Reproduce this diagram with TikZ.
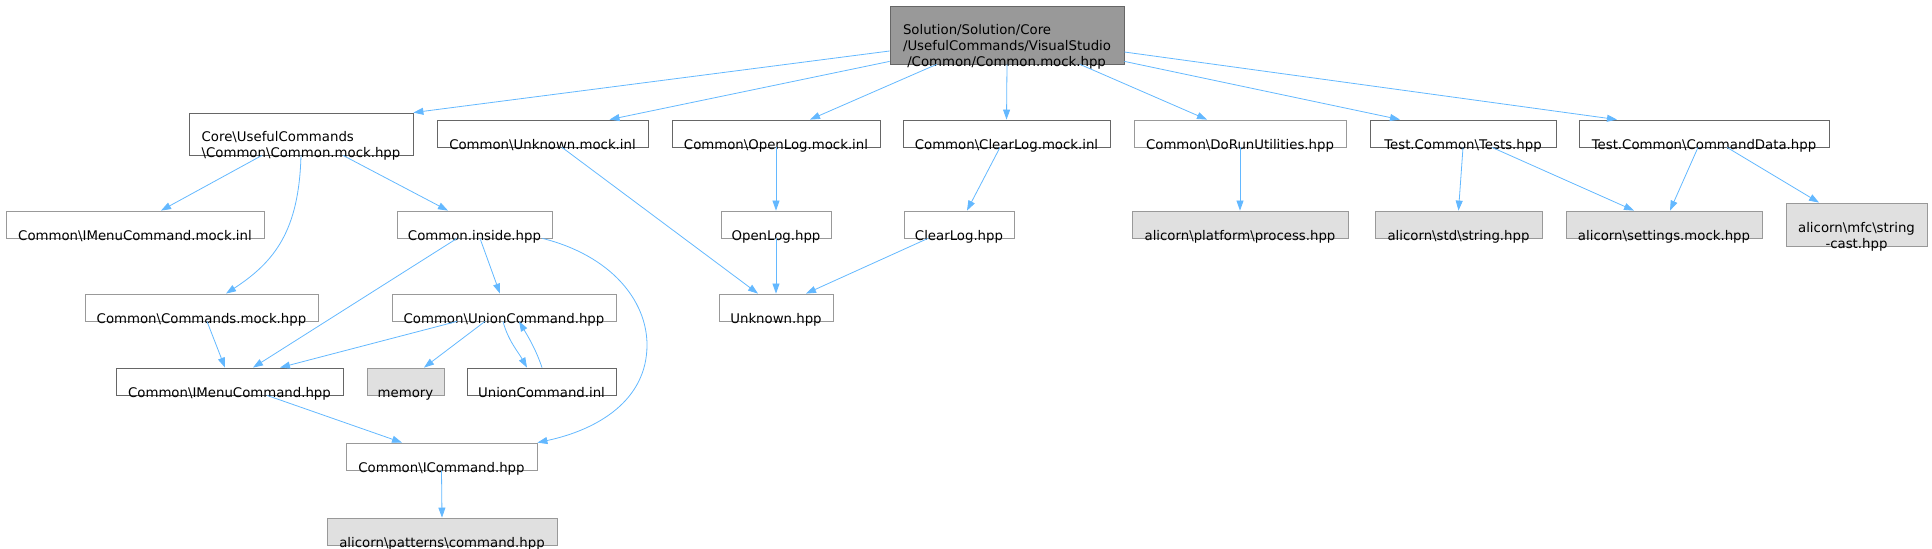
\documentclass[tikz,border=0pt]{standalone}
\usepackage{fontspec}
\setmainfont{DejaVu Sans}
\usepackage{tikz}
\usetikzlibrary{arrows.meta}

\definecolor{edgeblue}{HTML}{63B8FF}
\definecolor{dkgray}{HTML}{666666}
\definecolor{ltgray}{HTML}{999999}
\definecolor{extfill}{HTML}{E0E0E0}
\definecolor{rootfill}{HTML}{999999}
\newcommand{\bsl}{\textbackslash}
% label text sits low in its box, last baseline just under the bottom edge
\newcommand{\ftxt}[2][16bp]{\raisebox{-#1}[0pt][0pt]{\begin{tabular}[b]{@{}c@{}}#2\end{tabular}}}
\newcommand{\ftxtl}[2][16bp]{\raisebox{-#1}[0pt][0pt]{\begin{tabular}[b]{@{}l@{}}#2\end{tabular}}}

\begin{document}
\begin{tikzpicture}[x=1bp, y=-1bp,
  file/.style={draw=dkgray, fill=white, line width=0.8bp, inner sep=0pt,
               minimum height=27bp, font=\fontsize{13.3bp}{16bp}\selectfont},
  plain/.style={file, draw=ltgray},
  ext/.style={file, draw=ltgray, fill=extfill},
  arr/.style={-{Triangle[length=10bp, width=7bp]}, edgeblue, line width=0.8bp}
]
  \useasboundingbox (0,0) rectangle (1932,549);

  % row 0
  \node[file, fill=rootfill, minimum width=234bp, minimum height=58bp] (root) at (1007,35)
        {\ftxtl[32bp]{Solution/Solution/Core\\/UsefulCommands/VisualStudio\\\ /Common/Common.mock.hpp}};

  % row 1
  \node[file, minimum width=224bp, minimum height=42bp] (core) at (301,134)
        {\ftxtl[24bp]{Core\bsl UsefulCommands\\\bsl Common\bsl Common.mock.hpp}};
  \node[file, minimum width=211bp] (unkmock) at (542.5,133.5) {\ftxt{Common\bsl Unknown.mock.inl}};
  \node[file, minimum width=208bp] (openmock) at (776,133.5) {\ftxt{Common\bsl OpenLog.mock.inl}};
  \node[file, minimum width=207bp] (clearmock) at (1006.5,133.5) {\ftxt{Common\bsl ClearLog.mock.inl}};
  \node[plain, minimum width=212bp] (dorun) at (1240,133.5) {\ftxt{Common\bsl DoRunUtilities.hpp}};
  \node[file, minimum width=186bp] (tests) at (1463,133.5) {\ftxt{Test.Common\bsl Tests.hpp}};
  \node[file, minimum width=250bp] (cmddata) at (1704,133.5) {\ftxt{Test.Common\bsl CommandData.hpp}};

  % row 2
  \node[plain, minimum width=258bp] (menumock) at (135,224.5) {\ftxt{Common\bsl IMenuCommand.mock.inl}};
  \node[plain, minimum width=155bp] (inside) at (474.5,224.5) {\ftxt{Common.inside.hpp}};
  \node[plain, minimum width=110bp] (openlog) at (776,224.5) {\ftxt{OpenLog.hpp}};
  \node[plain, minimum width=110bp] (clearlog) at (959,224.5) {\ftxt{ClearLog.hpp}};
  \node[ext, minimum width=216bp] (process) at (1240,224.5) {\ftxt{alicorn\bsl platform\bsl process.hpp}};
  \node[ext, minimum width=167bp] (string) at (1458.5,224.5) {\ftxt{alicorn\bsl std\bsl string.hpp}};
  \node[ext, minimum width=196bp] (settings) at (1664,224.5) {\ftxt{alicorn\bsl settings.mock.hpp}};
  \node[ext, minimum width=141bp, minimum height=43bp] (strcast) at (1856.5,224.5)
        {\ftxt[24.5bp]{alicorn\bsl mfc\bsl string\\-cast.hpp}};

  % row 3
  \node[plain, minimum width=233bp] (commands) at (201.5,307.5) {\ftxt{Common\bsl Commands.mock.hpp}};
  \node[plain, minimum width=224bp] (union) at (504,307.5) {\ftxt{Common\bsl UnionCommand.hpp}};
  \node[plain, minimum width=114bp] (unknown) at (776,307.5) {\ftxt{Unknown.hpp}};

  % row 4
  \node[file, minimum width=227bp] (menu) at (229.5,381.5) {\ftxt{Common\bsl IMenuCommand.hpp}};
  \node[ext, minimum width=77bp] (memory) at (405.5,381.5) {\ftxt{memory}};
  \node[file, minimum width=149bp] (unioninl) at (541.5,381.5) {\ftxt{UnionCommand.inl}};

  % row 5-6
  \node[plain, minimum width=191bp] (icommand) at (441.5,456.5) {\ftxt{Common\bsl ICommand.hpp}};
  \node[ext, minimum width=230bp] (patterns) at (442,531.5) {\ftxt{alicorn\bsl patterns\bsl command.hpp}};

  % edges from the root
  \draw[arr] ([yshift=-16bp]root.west) -- (core.north east);
  \draw[arr] ([yshift=3bp]root.south west) -- ([xshift=67bp]unkmock.north);
  \draw[arr] ([xshift=47bp]root.south west) -- ([xshift=34bp]openmock.north);
  \draw[arr] (root.south) -- (clearmock.north);
  \draw[arr] ([xshift=73bp]root.south) -- ([xshift=-33bp]dorun.north);
  \draw[arr] ([yshift=3bp]root.south east) -- ([xshift=-63bp]tests.north);
  \draw[arr] ([yshift=-17bp]root.east) -- ([xshift=-87bp]cmddata.north);

  % second level
  \draw[arr] ([xshift=-39bp]core.south) -- ([xshift=26bp]menumock.north);
  \draw[arr] (core.south) .. controls +(-2,75) and +(49,-32) .. ([xshift=24.5bp]commands.north);
  \draw[arr] ([xshift=42bp]core.south) -- ([xshift=-26.5bp]inside.north);
  \draw[arr] ([xshift=19.5bp]unkmock.south) -- ([xshift=-18bp]unknown.north);
  \draw[arr] (openmock.south) -- (openlog.north);
  \draw[arr] ([xshift=-6.5bp]clearmock.south) -- ([xshift=8bp]clearlog.north);
  \draw[arr] (dorun.south) -- (process.north);
  \draw[arr] (tests.south) -- (string.north);
  \draw[arr] ([xshift=29bp]tests.south) -- ([xshift=-30bp]settings.north);
  \draw[arr] ([xshift=-6bp]cmddata.south) -- ([xshift=6bp]settings.north);
  \draw[arr] ([xshift=23bp]cmddata.south) -- ([xshift=-37.5bp]strcast.north);

  % lower levels
  \draw[arr] (openlog.south) -- (unknown.north);
  \draw[arr] ([xshift=-31bp]clearlog.south) -- ([xshift=30bp]unknown.north);
  \draw[arr] ([xshift=-17.5bp]inside.south) -- ([xshift=23.5bp]menu.north);
  \draw[arr] ([xshift=5.5bp]inside.south) -- ([xshift=-4bp]union.north);
  \draw[arr] ([xshift=-10bp]inside.south east) .. controls +(68,17) and +(0,-45) .. (647,345)
             .. controls +(0,55) and +(61,-13) .. (icommand.north east);
  \draw[arr] ([xshift=5.5bp]commands.south) -- ([xshift=-4.5bp]menu.north);
  \draw[arr] ([xshift=-47bp]union.south) -- ([xshift=50.5bp]menu.north);
  \draw[arr] ([xshift=-19bp]union.south) -- ([xshift=18.5bp]memory.north);
  \draw[arr] ([xshift=-1bp]union.south) .. controls +(5,19) and +(-9,-16) .. ([xshift=-14.5bp]unioninl.north);
  \draw[arr] ([xshift=0.5bp]unioninl.north) .. controls +(-6,-18) and +(9,15) .. ([xshift=15bp]union.south);
  \draw[arr] ([xshift=37.5bp]menu.south) -- ([xshift=-39.5bp]icommand.north);
  \draw[arr] (icommand.south) -- (patterns.north);
\end{tikzpicture}
\end{document}
